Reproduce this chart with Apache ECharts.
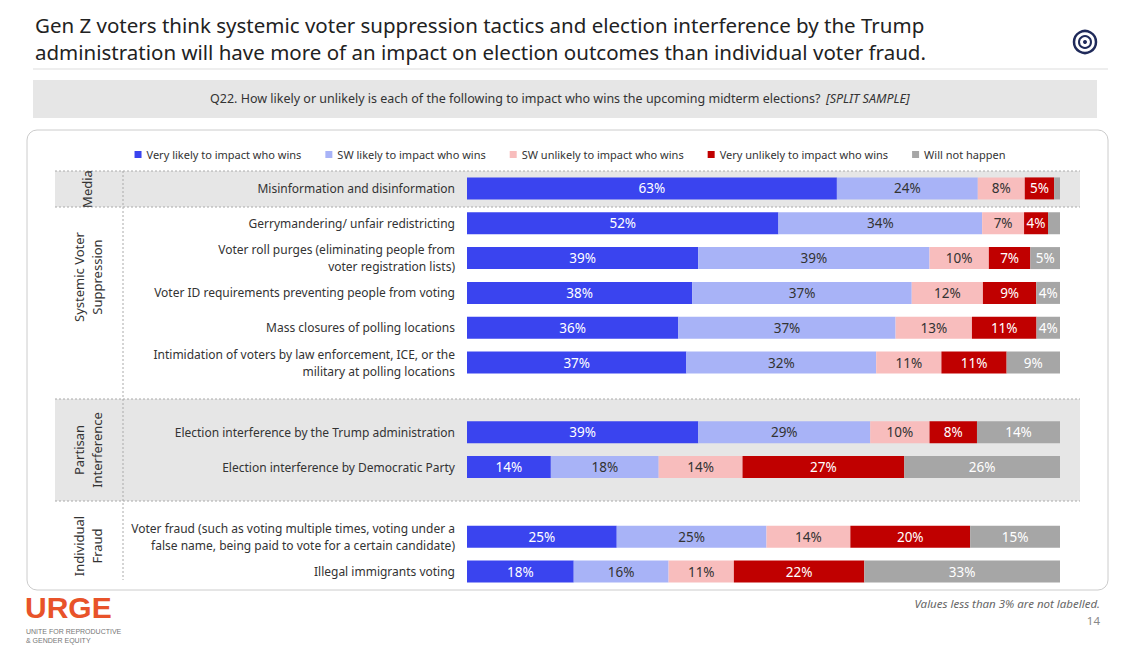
<!DOCTYPE html>
<html lang="en">
<head>
<meta charset="utf-8" />
<title>Gen Z voter suppression</title>
<script src="https://cdn.jsdelivr.net/npm/echarts@6/dist/echarts.min.js"></script>
<style>body{margin:0;background:#fff;}</style>
</head>
<body>
<div id="main" style="width:1140px;height:645px;"></div>
<script type="text/javascript">
// 行标签 (空字符串 = 分组之间的空行)
var categories = [
  'Misinformation and disinformation',
  'Gerrymandering/ unfair redistricting',
  'Voter roll purges (eliminating people from\nvoter registration lists)',
  'Voter ID requirements preventing people from voting',
  'Mass closures of polling locations',
  'Intimidation of voters by law enforcement, ICE, or the\nmilitary at polling locations',
  '',
  'Election interference by the Trump administration',
  'Election interference by Democratic Party',
  '',
  'Voter fraud (such as voting multiple times, voting under a\nfalse name, being paid to vote for a certain candidate)',
  'Illegal immigrants voting'
];
var seriesNames = ['Very likely to impact who wins', 'SW likely to impact who wins',
  'SW unlikely to impact who wins', 'Very unlikely to impact who wins', 'Will not happen'];
var veryLikely   = [63, 52, 39, 38, 36, 37, null, 39, 14, null, 25, 18];
var swLikely     = [24, 34, 39, 37, 37, 32, null, 29, 18, null, 25, 16];
var swUnlikely   = [8, 7, 10, 12, 13, 11, null, 10, 14, null, 14, 11];
var veryUnlikely = [5, 4, 7, 9, 11, 11, null, 8, 27, null, 20, 22];
var notHappen    = [1, 2, 5, 4, 4, 9, null, 14, 26, null, 15, 33];

var colors = ['#3a44ef', '#a8b3f7', '#f8bdbd', '#c00000', '#a6a6a6'];
var labelColors = ['#fff', '#333', '#333', '#fff', '#fff'];
var all = [veryLikely, swLikely, swUnlikely, veryUnlikely, notHappen];

// 每行合计，用于把条形铺满整行
var totals = categories.map(function (c, i) {
  return all.reduce(function (s, arr) { return s + (arr[i] || 0); }, 0);
});

var series = all.map(function (arr, k) {
  return {
    name: seriesNames[k], type: 'bar', stack: 'all', barWidth: 22,
    itemStyle: { color: colors[k] },
    label: {
      show: true, color: labelColors[k], fontSize: 13.5, fontFamily: 'Noto Sans',
      formatter: function (p) { var v = arr[p.dataIndex]; return v >= 3 ? v + '%' : ''; }
    },
    data: arr.map(function (v, i) { return v == null ? null : v / totals[i] * 100; })
  };
});

var dash = { stroke: '#aaa', lineWidth: 1, lineDash: [2, 2] };
var myChart = echarts.init(document.getElementById('main'), null, { renderer: 'svg' });
var option = {
  animation: false,
  legend: {
    top: 144, left: 'center', itemWidth: 7, itemHeight: 7, itemGap: 24,
    icon: 'rect', textStyle: { fontSize: 11, color: '#333', fontFamily: 'Noto Sans' },
    data: seriesNames
  },
  grid: { left: 467, right: 80, top: 171, bottom: 56, containLabel: false },
  xAxis: { type: 'value', min: 0, max: 100, show: false },
  yAxis: {
    type: 'category', inverse: true, data: categories,
    axisLine: { show: false }, axisTick: { show: false },
    axisLabel: { fontSize: 12, color: '#333', fontFamily: 'Noto Sans', align: 'right', margin: 12, lineHeight: 17 }
  },
  graphic: [
    { type: 'rect', z: -10, shape: { x: 55, y: 171, width: 1025, height: 36 }, style: { fill: '#e6e6e6' } },
    { type: 'rect', z: -10, shape: { x: 55, y: 399, width: 1025, height: 102 }, style: { fill: '#e6e6e6' } },
    { type: 'line', shape: { x1: 55, y1: 171, x2: 1080, y2: 171 }, style: dash },
    { type: 'line', shape: { x1: 55, y1: 207, x2: 1080, y2: 207 }, style: dash },
    { type: 'line', shape: { x1: 55, y1: 399, x2: 1080, y2: 399 }, style: dash },
    { type: 'line', shape: { x1: 55, y1: 501, x2: 1080, y2: 501 }, style: dash },
    { type: 'line', shape: { x1: 123, y1: 171, x2: 123, y2: 580 }, style: dash },
    { type: 'rect', z: -20, shape: { x: 27, y: 130, width: 1081, height: 460, r: 10 }, style: { fill: '#fff', stroke: '#ccc', lineWidth: 1 } },
    { type: 'rect', z: -20, shape: { x: 33, y: 80, width: 1064, height: 38 }, style: { fill: '#e6e6e6' } },
    { type: 'text', left: 210, top: 92, style: { text: 'Q22. How likely or unlikely is each of the following to impact who wins the upcoming midterm elections? ', fontSize: 12.5, fill: '#333', fontFamily: 'Noto Sans' } },
    { type: 'text', left: 826, top: 92, style: { text: '[SPLIT SAMPLE]', fontSize: 12.5, fill: '#333', fontStyle: 'italic', fontFamily: 'Noto Sans' } },
    { type: 'text', left: 35, top: 11, style: { text: 'Gen Z voters think systemic voter suppression tactics and election interference by the Trump\nadministration will have more of an impact on election outcomes than individual voter fraud.', fontSize: 20.5, lineHeight: 27, fill: '#222', fontFamily: 'Noto Sans' } },
    { type: 'line', shape: { x1: 33, y1: 69, x2: 1108, y2: 69 }, style: { stroke: '#ddd', lineWidth: 1 } },
    { type: 'circle', shape: { cx: 1085, cy: 42, r: 11 }, style: { fill: 'none', stroke: '#1f2a5a', lineWidth: 2.5 } },
    { type: 'circle', shape: { cx: 1085, cy: 42, r: 6 }, style: { fill: 'none', stroke: '#1f2a5a', lineWidth: 2 } },
    { type: 'circle', shape: { cx: 1085, cy: 42, r: 2 }, style: { fill: '#1f2a5a' } },
    { type: 'text', x: 87, y: 189, rotation: Math.PI / 2, style: { text: 'Media', fontSize: 13, fill: '#333', align: 'center', verticalAlign: 'middle', fontFamily: 'Noto Sans' } },
    { type: 'text', x: 88, y: 277, rotation: Math.PI / 2, style: { text: 'Systemic Voter\nSuppression', fontSize: 13, lineHeight: 18, fill: '#333', align: 'center', verticalAlign: 'middle', fontFamily: 'Noto Sans' } },
    { type: 'text', x: 88, y: 450, rotation: Math.PI / 2, style: { text: 'Partisan\nInterference', fontSize: 13, lineHeight: 18, fill: '#333', align: 'center', verticalAlign: 'middle', fontFamily: 'Noto Sans' } },
    { type: 'text', x: 88, y: 546, rotation: Math.PI / 2, style: { text: 'Individual\nFraud', fontSize: 13, lineHeight: 18, fill: '#333', align: 'center', verticalAlign: 'middle', fontFamily: 'Noto Sans' } },
    { type: 'text', left: 25, top: 592, style: { text: 'URGE', fontSize: 30, fontWeight: 'bold', fill: '#e8532a', fontFamily: 'Liberation Sans' } },
    { type: 'text', left: 26, top: 627, style: { text: 'UNITE FOR REPRODUCTIVE\n& GENDER EQUITY', fontSize: 7, lineHeight: 9, fill: '#777', fontFamily: 'Liberation Sans' } },
    { type: 'text', right: 40, top: 597, style: { text: 'Values less than 3% are not labelled.', fontSize: 11.5, fill: '#666', fontStyle: 'italic', fontFamily: 'Noto Sans' } },
    { type: 'text', right: 40, top: 614, style: { text: '14', fontSize: 11.5, fill: '#888', fontFamily: 'Noto Sans' } }
  ],
  series: series
};
myChart.setOption(option);
</script>
</body>
</html>
